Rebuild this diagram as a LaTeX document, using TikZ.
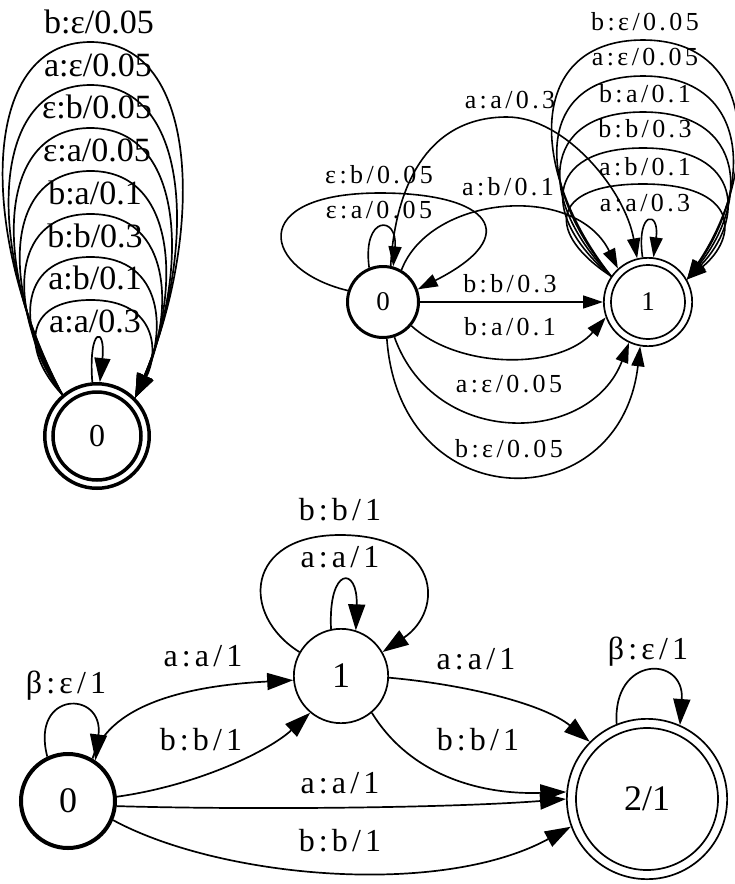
\documentclass[tikz,border=0pt]{standalone}
\usepackage{fontspec}
\setmainfont{Liberation Serif}
\newfontfamily\spacedfont[LetterSpace=13]{Liberation Serif}
\usetikzlibrary{arrows.meta}

\begin{document}
\begin{tikzpicture}[x=1pt, y=-1pt]
  \tikzstyle{state} = [circle, draw=black, line width=1.7pt, inner sep=0pt]
  \tikzstyle{start} = [state, line width=3.5pt]
  \tikzstyle{lab}   = [anchor=base, inner sep=0pt]
  \tikzstyle{labL}  = [lab, font=\fontsize{34}{34}\selectfont]
  \tikzstyle{labS}  = [lab, font=\spacedfont\fontsize{26}{26}\selectfont]
  \tikzstyle{labM}  = [lab, font=\spacedfont\fontsize{32}{32}\selectfont]
  \tikzstyle{edgeL} = [line width=1.7pt, -{Triangle[length=24pt,width=16pt]}]
  \tikzstyle{edgeS} = [line width=1.6pt, -{Triangle[length=20pt,width=13pt]}]
  \tikzstyle{edgeM} = [line width=1.7pt, -{Triangle[length=26pt,width=17pt]}]

  \useasboundingbox (0,0) rectangle (735,884);

  % one-state machine
  \node[start, minimum size=104.5pt, font=\fontsize{32}{32}\selectfont] (a0) at (97,436) {0};
  \draw[line width=3.5pt] (a0.center) circle[radius=44pt];
  \foreach \t/\w in {42/112, 85/104, 128/97, 171/89, 214/83, 257/75, 300/68}
    \draw[edgeL] (a0.130) .. controls ({90.5-\w},{217.3+0.45*\t}) and ({90.5-\w},\t) .. (90.5,\t)
      .. controls ({90.5+\w},\t) and ({90.5+\w},{218.9+0.45*\t}) .. (a0.45);
  \draw[edgeL] (a0.95) .. controls (88,326) and (106,326) .. (a0.87);
  \node[labL] (a0l1) at (99,33)  {b:ε/0.05};
  \node[labL] (a0l2) at (98,76)  {a:ε/0.05};
  \node[labL] (a0l3) at (97,118) {ε:b/0.05};
  \node[labL] (a0l4) at (97,161) {ε:a/0.05};
  \node[labL] (a0l5) at (95,204) {b:a/0.1};
  \node[labL] (a0l6) at (95,247) {b:b/0.3};
  \node[labL] (a0l7) at (95,289) {a:b/0.1};
  \node[labL] (a0l8) at (95,332) {a:a/0.3};

  % two-state machine
  \node[start, line width=3pt, minimum size=71pt, font=\fontsize{27}{27}\selectfont] (b0) at (383,302) {0};
  \node[state, minimum size=88.3pt, font=\fontsize{27}{27}\selectfont] (b1) at (648,302) {1};
  \draw[line width=1.7pt] (b1.center) circle[radius=37pt];
  \foreach \t/\w in {40/116, 76/109, 112/105, 148/101, 184/96}
    \draw[edgeS] (b1.145) .. controls ({643-\w},{151.8+0.45*\t}) and ({643-\w},\t) .. (643,\t)
      .. controls ({643+\w},\t) and ({643+\w},{154+0.45*\t}) .. (b1.30);
  \draw[edgeS] (b1.97) .. controls (636,210) and (660,210) .. (b1.83);
  \draw[edgeS] (b0.112) .. controls (362,215) and (398,215) .. (b0.74);
  \draw[edgeS] (b0.162) .. controls (262,270) and (245,193) .. (380,193)
    .. controls (490,193) and (525,235) .. (b0.20);
  \draw[edgeS] (b0.78) .. controls (395,190) and (425,117) .. (507,117)
    .. controls (565,117) and (625,190) .. (b1.104);
  \draw[edgeS] (b0.60) .. controls (430,195) and (575,182) .. (b1.132);
  \draw[edgeS] (b0) -- (b1);
  \draw[edgeS] (b0.-40) .. controls (460,370) and (560,370) .. (b1.200);
  \draw[edgeS] (b0.-72) .. controls (435,450) and (590,445) .. (b1.245);
  \draw[edgeS] (b0.-84) .. controls (400,520) and (620,520) .. (b1.260);
  \node[labS] (b1l1) at (645,30)  {b:ε/0.05};
  \node[labS] (b1l2) at (645,65)  {a:ε/0.05};
  \node[labS] (b1l3) at (645,102) {b:a/0.1};
  \node[labS] (b1l4) at (645,137) {b:b/0.3};
  \node[labS] (b1l5) at (645,175) {a:b/0.1};
  \node[labS] (b1l6) at (645,211) {a:a/0.3};
  \node[labS] (b0l1) at (379,183) {ε:b/0.05};
  \node[labS] (b0l2) at (379,218) {ε:a/0.05};
  \node[labS] (bl1) at (510,108) {a:a/0.3};
  \node[labS] (bl2) at (508,195) {a:b/0.1};
  \node[labS] (bl3) at (510,292) {b:b/0.3};
  \node[labS] (bl4) at (510,335) {b:a/0.1};
  \node[labS] (bl5) at (509,392) {a:ε/0.05};
  \node[labS] (bl6) at (509,457) {b:ε/0.05};

  % three-state machine
  \node[start, line width=4pt, minimum size=94pt, font=\fontsize{36}{36}\selectfont] (c0) at (68,801) {0};
  \node[state, minimum size=94.3pt, font=\fontsize{36}{36}\selectfont] (c1) at (341,676) {1};
  \node[state, minimum size=160.3pt, font=\fontsize{36}{36}\selectfont] (c2) at (647,799) {2/1};
  \draw[line width=1.7pt] (c2.center) circle[radius=71pt];
  \draw[edgeM] (c0.115) .. controls (30,690) and (104,690) .. (c0.56);
  \draw[edgeM] (c1.102) .. controls (328,566) and (358,566) .. (c1.72);
  \draw[edgeM] (c1.150) .. controls (240,615) and (245,535) .. (340,535)
    .. controls (440,535) and (445,610) .. (c1.30);
  \draw[edgeM] (c0.60) .. controls (110,700) and (200,685) .. (c1.185);
  \draw[edgeM] (c0.5) .. controls (200,785) and (270,750) .. (c1.230);
  \draw[edgeM] (c0.-6) .. controls (250,810) and (450,808) .. (c2.180);
  \draw[edgeM] (c0.-23) .. controls (220,878) and (440,898) .. (c2.200);
  \draw[edgeM] (c1.-2) .. controls (470,685) and (545,705) .. (c2.135);
  \draw[edgeM] (c1.-50) .. controls (410,775) and (480,795) .. (c2.175);
  \draw[edgeM] (c2.112) .. controls (612,655) and (685,655) .. (c2.66);
  \node[labM] (c0l) at (66,693)  {β:ε/1};
  \node[labM] (c2l) at (648,659) {β:ε/1};
  \node[labM] (c1l1) at (340,520) {b:b/1};
  \node[labM] (c1l2) at (340,567) {a:a/1};
  \node[labM] (cl1) at (203,666) {a:a/1};
  \node[labM] (cl2) at (201,750) {b:b/1};
  \node[labM] (cl3) at (476,669) {a:a/1};
  \node[labM] (cl4) at (478,750) {b:b/1};
  \node[labM] (cl5) at (340,793) {a:a/1};
  \node[labM] (cl6) at (340,851) {b:b/1};
\end{tikzpicture}
\end{document}
